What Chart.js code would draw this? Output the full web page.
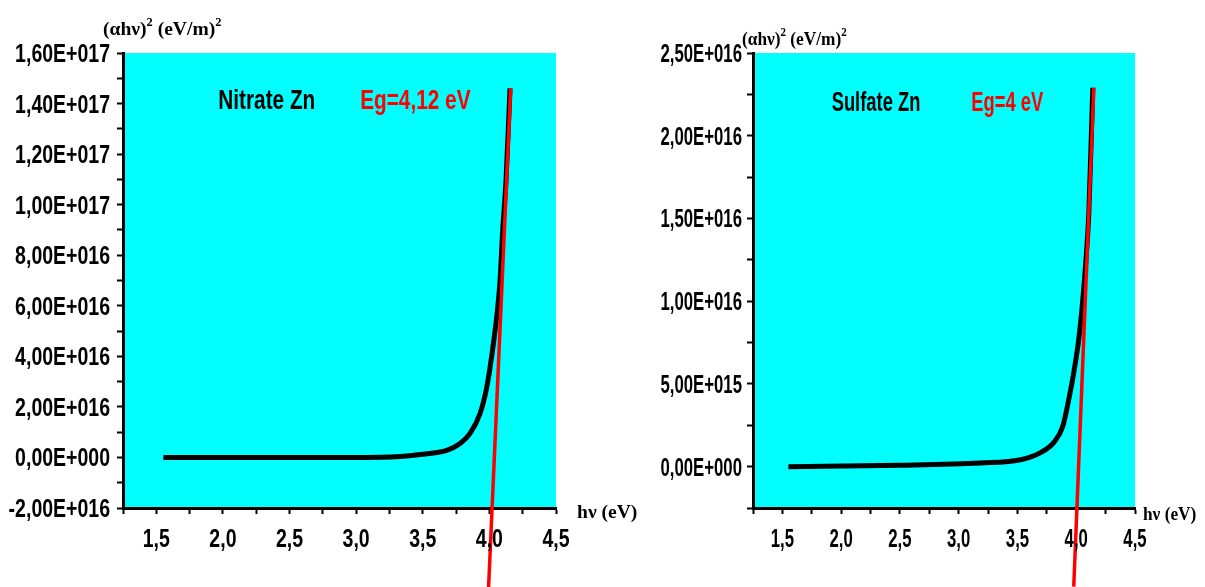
<!DOCTYPE html>
<html>
<head>
<meta charset="utf-8">
<script src="https://cdn.jsdelivr.net/npm/chart.js@4.4.1/dist/chart.umd.min.js"></script>
<style>
  body { margin: 0; background: #fff; }
  .box { position: absolute; top: 0; height: 587px; }
  #leftBox { left: 0; width: 640px; }
  #rightBox { left: 640px; width: 565px; }
</style>
</head>
<body>
<div class="box" id="leftBox"><canvas id="Canvas1"></canvas></div>
<div class="box" id="rightBox"><canvas id="Canvas2"></canvas></div>
<script>
// Nitrate Zn : (ahv)^2 against photon energy
var nitrateEnergy = [1.553, 2.2, 2.8, 3.18, 3.33, 3.48, 3.68, 3.78, 3.855, 3.93, 3.98, 4.02, 4.058, 4.08, 4.10, 4.125, 4.155];
var nitrateAbs = [0, 0, 0, 1e14, 4e14, 1.2e15, 2.8e15, 5.5e15, 9.5e15, 1.74e16, 2.77e16, 4.11e16, 5.7e16, 7.0e16, 8.98e16, 1.096e17, 1.46e17];
var nitrateFitX = [4.16, 3.994];
var nitrateFitY = [1.46e17, -5.14e16];

// Sulfate Zn
var sulfateEnergy = [1.551, 2.5, 3.184, 3.526, 3.697, 3.808, 3.885, 3.936, 3.979, 4.021, 4.056, 4.081, 4.107, 4.141];
var sulfateAbs = [0, 8e13, 2.2e14, 4.2e14, 8.5e14, 1.45e15, 2.42e15, 4.05e15, 5.68e15, 7.67e15, 1.01e16, 1.23e16, 1.53e16, 2.29e16];
var sulfateFitX = [4.15, 3.979];
var sulfateFitY = [2.29e16, -7.25e15];

var SANS = "'Liberation Sans', Arial, sans-serif";
var SERIF = "'Liberation Serif', 'Times New Roman', serif";

function sci(v) {
    if (v === 0) return '0,00E+000';
    var e = Math.floor(Math.log10(Math.abs(v)));
    var m = v / Math.pow(10, e);
    if (Math.abs(m) >= 9.995) { m = m / 10; e++; }
    return m.toFixed(2).replace('.', ',') + 'E' + (e < 0 ? '-' : '+') + String(Math.abs(e)).padStart(3, '0');
}

function pts(xs, ys) {
    return xs.map(function (x, i) { return { x: x, y: ys[i] }; });
}

// the original uses a narrow bold face, so text is squeezed horizontally
function narrowText(ctx, text, x, y, sx, align) {
    ctx.save();
    ctx.translate(x, y);
    ctx.scale(sx, 1);
    ctx.textAlign = align || 'left';
    ctx.fillText(text, 0, 0);
    ctx.restore();
}

// cyan plot background, tick labels and free texts
var plotBg = {
    id: 'plotBg',
    beforeDraw: function (chart) {
        var a = chart.chartArea, ctx = chart.ctx;
        ctx.save();
        ctx.fillStyle = '#00ffff';
        ctx.fillRect(a.left, a.top, a.right - a.left, a.bottom - a.top);
        ctx.restore();
    },
    afterDraw: function (chart) {
        var o = chart.options.plugins.plotBg, ctx = chart.ctx, a = chart.chartArea;
        var sx = chart.scales.x, sy = chart.scales.y;
        ctx.save();
        ctx.textBaseline = 'alphabetic';
        ctx.fillStyle = '#000';
        ctx.font = 'bold 25px ' + SANS;
        sy.ticks.forEach(function (t) {
            if (t.label) narrowText(ctx, t.label, a.left - o.yLabelGap, sy.getPixelForValue(t.value) + 9, o.tickSx, 'right');
        });
        sx.ticks.forEach(function (t) {
            if (t.label) narrowText(ctx, t.label, sx.getPixelForValue(t.value), a.bottom + 39, o.tickSx, 'center');
        });
        (o.notes || []).forEach(function (n) {
            ctx.font = 'bold 27px ' + SANS;
            ctx.fillStyle = n.color;
            narrowText(ctx, n.text, sx.getPixelForValue(n.x), sy.getPixelForValue(n.y), o.noteSx);
        });
        // axis titles, serif with raised exponents
        function serif(parts, x, y, s) {
            parts.forEach(function (p) {
                ctx.font = p.sup ? 'bold 12px ' + SERIF : 'bold 19px ' + SERIF;
                ctx.fillStyle = '#000';
                narrowText(ctx, p.t, x, p.sup ? y - 9 : y, s);
                x += ctx.measureText(p.t).width * s;
            });
        }
        serif([{ t: '(αhν)' }, { t: '2', sup: true }, { t: ' (eV/m)' }, { t: '2', sup: true }], a.left + o.yTitle[0], a.top + o.yTitle[1], o.titleSx);
        serif([{ t: 'hν (eV)' }], a.right + o.xTitle[0], a.bottom + o.xTitle[1], o.titleSx);
        ctx.restore();
    }
};

function makeChart(id, curve, fit, yMin, yMax, yStep, yLabelStep, pad, plotOpts) {
    return new Chart(document.getElementById(id).getContext('2d'), {
        type: 'line',
        data: {
            datasets: [{
                data: fit,
                borderColor: '#ff0000',
                borderWidth: 3.5,
                pointRadius: 0,
                clip: false
            }, {
                data: curve,
                borderColor: '#000000',
                borderWidth: 5,
                pointRadius: 0,
                cubicInterpolationMode: 'monotone'
            }]
        },
        options: {
            responsive: true,
            maintainAspectRatio: false,
            animation: false,
            layout: { padding: { left: 0, top: 53, right: pad.right, bottom: 0 } },
            plugins: {
                legend: { display: false },
                tooltip: { enabled: false },
                plotBg: plotOpts
            },
            scales: {
                x: {
                    type: 'linear',
                    min: 1.25,
                    max: 4.5,
                    afterFit: function (s) { s.height = 79; },
                    border: { display: true, color: '#000', width: 3 },
                    grid: { drawOnChartArea: false, color: '#000', tickLength: 6, tickWidth: 2 },
                    ticks: {
                        stepSize: 0.25,
                        autoSkip: false,
                        maxRotation: 0,
                        color: 'rgba(0,0,0,0)',
                        callback: function (v) {
                            var k = Math.round(v * 4);
                            return k % 2 === 0 ? (k / 4).toFixed(1).replace('.', ',') : '';
                        }
                    }
                },
                y: {
                    min: yMin,
                    max: yMax,
                    afterFit: function (s) { s.width = pad.left; },
                    border: { display: true, color: '#000', width: 3 },
                    grid: { drawOnChartArea: false, color: '#000', tickLength: 6, tickWidth: 2 },
                    ticks: {
                        stepSize: yStep,
                        autoSkip: false,
                        color: 'rgba(0,0,0,0)',
                        callback: function (v) {
                            var k = Math.round(v / yLabelStep * 1000) / 1000;
                            return Number.isInteger(k) ? sci(v) : '';
                        }
                    }
                }
            }
        },
        plugins: [plotBg]
    });
}

makeChart('Canvas1', pts(nitrateEnergy, nitrateAbs), pts(nitrateFitX, nitrateFitY),
    -2e16, 1.6e17, 1e16, 2e16, { left: 123, right: 84 },
    {
        notes: [{ text: 'Nitrate Zn', x: 1.965, y: 1.38e17, color: '#000' },
                { text: 'Eg=4,12 eV', x: 3.03, y: 1.38e17, color: '#ff0000' }],
        tickSx: 0.78,
        noteSx: 0.77,
        titleSx: 1.03,
        yLabelGap: 13,
        yTitle: [-20, -18],
        xTitle: [21, 10]
    });

makeChart('Canvas2', pts(sulfateEnergy, sulfateAbs), pts(sulfateFitX, sulfateFitY),
    -2.5e15, 2.5e16, 2.5e15, 5e15, { left: 113, right: 70 },
    {
        notes: [{ text: 'Sulfate Zn', x: 1.919, y: 2.15e16, color: '#000' },
                { text: 'Eg=4 eV', x: 3.107, y: 2.15e16, color: '#ff0000' }],
        tickSx: 0.67,
        noteSx: 0.68,
        titleSx: 0.91,
        yLabelGap: 11,
        yTitle: [-11, -8],
        xTitle: [8, 12]
    });
</script>
</body>
</html>
